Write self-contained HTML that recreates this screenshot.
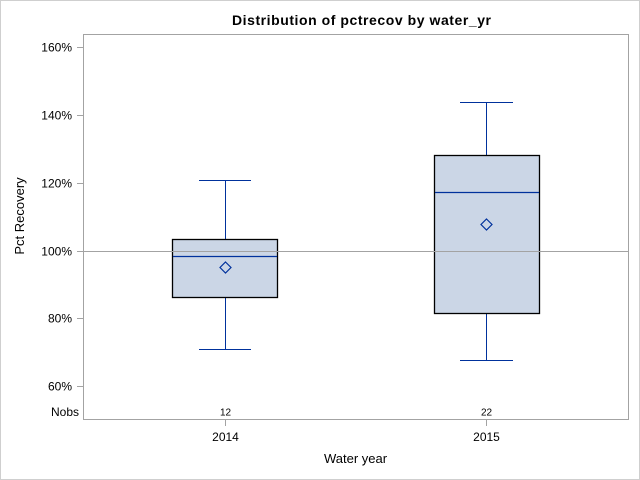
<!DOCTYPE html>
<html><head><meta charset="utf-8"><style>
html,body{margin:0;padding:0;background:#fff;}
svg{display:block;}
text{font-family:"Liberation Sans",Arial,sans-serif;fill:#000;}
</style></head><body>
<svg width="640" height="480" viewBox="0 0 640 480" xmlns="http://www.w3.org/2000/svg">
<rect x="0.5" y="0.5" width="639" height="479" fill="#fff" stroke="#cfcfcf" stroke-width="1"/>
<text x="232" y="25" font-size="14" font-weight="bold" textLength="259" lengthAdjust="spacing">Distribution of pctrecov by water_yr</text>
<!-- plot frame -->
<rect x="83.5" y="34.5" width="545" height="385" fill="#fff" stroke="#a3a3a3" stroke-width="1"/>
<!-- y ticks -->
<g stroke="#a3a3a3" stroke-width="1">
<line x1="77" y1="47.5" x2="83" y2="47.5"/>
<line x1="77" y1="115.5" x2="83" y2="115.5"/>
<line x1="77" y1="183.5" x2="83" y2="183.5"/>
<line x1="77" y1="251.5" x2="83" y2="251.5"/>
<line x1="77" y1="318.5" x2="83" y2="318.5"/>
<line x1="77" y1="386.5" x2="83" y2="386.5"/>
<line x1="225.5" y1="420" x2="225.5" y2="426"/>
<line x1="486.5" y1="420" x2="486.5" y2="426"/>
</g>
<g font-size="12" text-anchor="end" fill="#000">
<text x="72" y="51.5">160%</text>
<text x="72" y="119.5">140%</text>
<text x="72" y="187.5">120%</text>
<text x="72" y="255.5">100%</text>
<text x="72" y="322.5">80%</text>
<text x="72" y="390.5">60%</text>
<text x="79" y="416">Nobs</text>
</g>
<text x="20" y="216" font-size="13" text-anchor="middle" transform="rotate(-90 20 216)" dy="4">Pct Recovery</text>
<!-- 2014 box -->
<g>
<line x1="225.5" y1="180.5" x2="225.5" y2="239.5" stroke="#00319c" stroke-width="1"/>
<line x1="225.5" y1="297.5" x2="225.5" y2="349.5" stroke="#00319c" stroke-width="1"/>
<line x1="199" y1="180.5" x2="251" y2="180.5" stroke="#00319c" stroke-width="1"/>
<line x1="199" y1="349.5" x2="251" y2="349.5" stroke="#00319c" stroke-width="1"/>
<rect x="172.5" y="239.5" width="105" height="58" fill="#cbd6e6" stroke="#000" stroke-width="1.3"/>
<line x1="173" y1="256.5" x2="277" y2="256.5" stroke="#00319c" stroke-width="1.3"/>
<polygon points="225.5,262 231,267.5 225.5,273 220,267.5" fill="none" stroke="#00319c" stroke-width="1.2"/>
</g>
<!-- 2015 box -->
<g>
<line x1="486.5" y1="102.5" x2="486.5" y2="155.5" stroke="#00319c" stroke-width="1"/>
<line x1="486.5" y1="313.5" x2="486.5" y2="360.5" stroke="#00319c" stroke-width="1"/>
<line x1="460" y1="102.5" x2="513" y2="102.5" stroke="#00319c" stroke-width="1"/>
<line x1="460" y1="360.5" x2="513" y2="360.5" stroke="#00319c" stroke-width="1"/>
<rect x="434.5" y="155.5" width="105" height="158" fill="#cbd6e6" stroke="#000" stroke-width="1.3"/>
<line x1="435" y1="192.5" x2="539" y2="192.5" stroke="#00319c" stroke-width="1.3"/>
<polygon points="486.5,219 492,224.5 486.5,230 481,224.5" fill="none" stroke="#00319c" stroke-width="1.2"/>
</g>
<!-- reference line -->
<line x1="84" y1="251.5" x2="628" y2="251.5" stroke="#a3a3a3" stroke-width="1"/>
<!-- nobs -->
<g font-size="10" text-anchor="middle">
<text x="225.5" y="415.5">12</text>
<text x="486.5" y="415.5">22</text>
</g>
<g font-size="12" text-anchor="middle">
<text x="225.5" y="441">2014</text>
<text x="486.5" y="441">2015</text>
</g>
<text x="355.5" y="463" font-size="13" text-anchor="middle">Water year</text>
</svg>
</body></html>
